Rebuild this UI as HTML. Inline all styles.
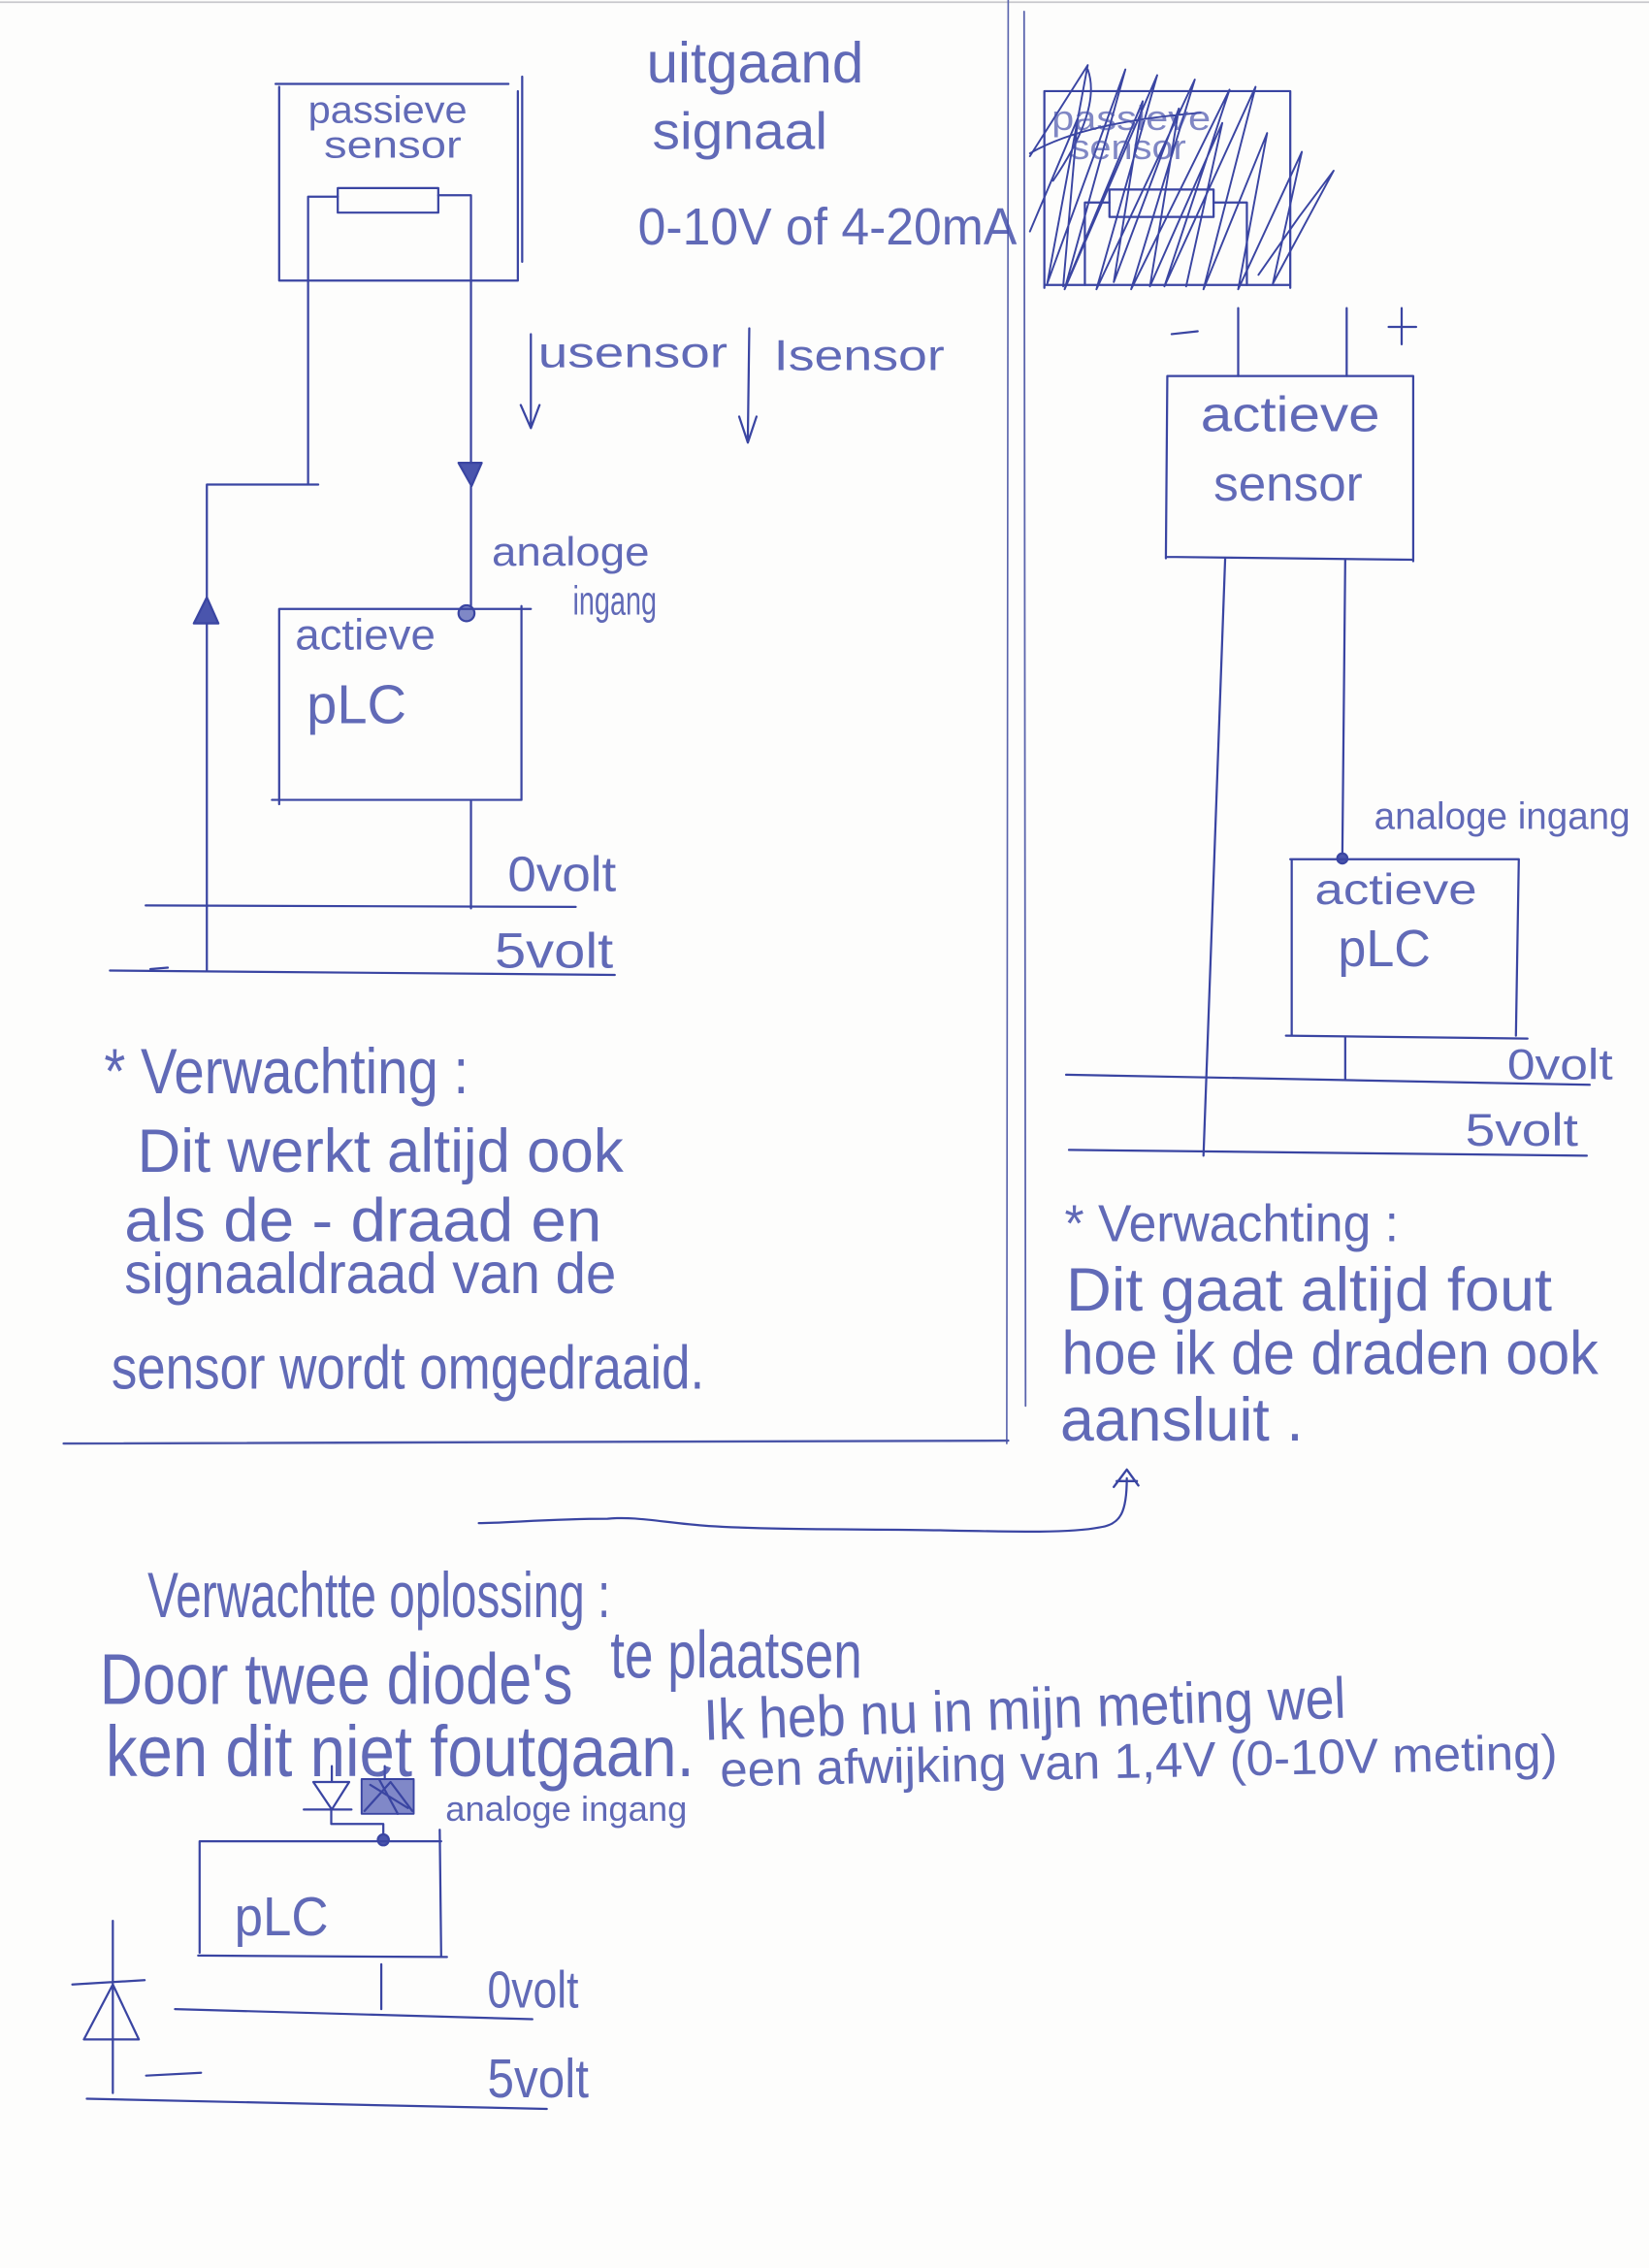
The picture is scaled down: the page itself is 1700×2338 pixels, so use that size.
<!DOCTYPE html>
<html><head><meta charset="utf-8"><style>
html,body{margin:0;padding:0;background:#fdfdfc;}
svg{display:block;}
text{font-family:"Liberation Sans",sans-serif;fill:#4550aa;fill-opacity:0.85;}
</style></head><body>
<svg width="1700" height="2338" viewBox="0 0 1140 1568" preserveAspectRatio="none" xmlns="http://www.w3.org/2000/svg">
<rect x="0" y="0" width="1140" height="1568" fill="#fdfdfc"/>
<line x1="0" y1="1.5" x2="1140" y2="1.5" stroke="#c8c8cc" stroke-width="1.2"/>
<g fill="none" stroke="#3a45a2" stroke-width="1.5" stroke-linecap="round" stroke-linejoin="round">
<!-- borders -->
<path d="M697,0 L696,998" stroke="#5a64ad" stroke-width="1.1"/>
<path d="M44,998 L697,996" stroke="#4a55a8" stroke-width="1.6"/>
<path d="M708,8 L709,972" stroke="#5a64ad" stroke-width="1.2"/>

<!-- passive sensor box left -->
<path d="M190.5,58 L351.5,58 M193,60 L193,194 L358,194 L358,63 M361,53 L361,181"/>
<rect x="233.5" y="130" width="69.5" height="17"/>
<path d="M213,136 L233.5,136 M213,136 L213,335 M220,335 L143,335 L143,671"/>
<path d="M303,135 L325.6,135 L325.6,421"/>
<path d="M317,320 L333,320 L326,336 Z" fill="#4a55ad"/>
<path d="M134,431 L151,431 L143,413 Z" fill="#4a55ad"/>
<circle cx="322.5" cy="424" r="5.5" fill="#7f88c6"/>
<!-- PLC left -->
<path d="M193,421 L367,421 M193,421 L193,556 M188,553 L360.5,553 M360.5,419 L360.5,553"/>
<path d="M325.6,554 L325.6,628"/>
<path d="M100.7,626 L398,627"/>
<path d="M76,671 L425,674 M104,670 L116,669"/>
<!-- usensor / isensor arrows -->
<path d="M367,231 L367,294 M360,280 L367,296 L373,280"/>
<path d="M518,227 L517,303 M511,288 L517,306 L523,288"/>

<!-- right section hatched box -->
<path d="M722,63 L892,63 M722,63 L722,199 M722,197 L892,197 M892,63 L892,199"/>
<rect x="767" y="131" width="72" height="19"/>
<path d="M750,140 L767,140 M839,140 L862,140 M750,140 L750,197 M862,140 L862,197"/>
<path stroke-width="1.3" d="M712,108 L752,45 L724,196 L778,48 L736,200 L800,52 L758,200 L826,55 L782,200 L850,62 L805,198 L868,60 L832,200 L876,92 L856,200 L900,105 L880,196 L922,118 L898,150 L870,190 M712,160 L745,82 L735,198 M712,106 C740,90 780,82 830,78 M752,48 C760,70 745,100 728,125 M740,190 L790,70 L770,195 L815,75 L795,198 L845,85 L820,198"/>
<!-- terminals -->
<path d="M856,213 L856,260 M931,213 L931,260 M810,231 L828,229 M960,226 L979,226 M969,213 L969,238"/>
<!-- active sensor box -->
<path d="M807,260 L977,260 M807,260 L806,386 M806,385 L977,387 M977,260 L977,388"/>
<path d="M847,386 L832,799"/>
<path d="M930,387 L928,592"/>
<circle cx="928" cy="593.5" r="3.5" fill="#4a55ad"/>
<!-- PLC right -->
<path d="M892,594 L1050,594 M893,594 L893,716 M889,716 L1056,718 M1050,594 L1048,716"/>
<path d="M930,717 L930,746"/>
<path d="M737,743 L1099,750"/>
<path d="M739,795 L1097,799"/>
<!-- connector -->
<path d="M331,1053 C350,1053 380,1050 420,1050 C440,1048 460,1053 490,1055 C540,1058 600,1057 650,1058 C700,1059 740,1060 760,1056 C775,1054 779,1045 779,1022"/>
<path d="M770,1028 L779,1016 L787,1027 M772,1024 L786,1024" stroke-width="1.6"/>

<!-- bottom diodes -->
<path d="M216.6,1232 L241.4,1232 L229.4,1251 Z M210,1251 L243,1251 M229.4,1221 L229.4,1232 M229,1251 L229,1261 L265,1261 L265,1273"/>
<rect x="250" y="1230" width="36" height="24" fill="#8088c8" stroke-width="1.3"/>
<path d="M252,1252 L270,1232 L285,1252 M256,1234 L282,1250 M262,1230 L275,1254 M266,1221 L266,1230"/>
<circle cx="265" cy="1272" r="3.8" fill="#4a55ad"/>
<!-- PLC bottom -->
<path d="M138,1273 L305,1273 M138,1273 L138,1350 M137,1352 L309,1353 M304,1265 L305,1352"/>
<path d="M263.6,1358 L263.6,1389"/>
<path d="M121,1389 L368,1396"/>
<path d="M60,1451 L378,1458"/>
<path d="M78,1328 L78,1447 M50,1372 L100,1369 M78,1372 L58,1410 L96,1410 Z M101,1435 L139,1433"/>
</g>

<!-- left section texts -->
<text x="447" y="57" font-size="40" textLength="150" lengthAdjust="spacingAndGlyphs">uitgaand</text>
<text x="451" y="103" font-size="36" textLength="121" lengthAdjust="spacingAndGlyphs">signaal</text>
<text x="441" y="169" font-size="36" textLength="262" lengthAdjust="spacingAndGlyphs">0-10V of 4-20mA</text>
<text x="213" y="85" font-size="26" textLength="110" lengthAdjust="spacingAndGlyphs">passieve</text>
<text x="224" y="109" font-size="26" textLength="95" lengthAdjust="spacingAndGlyphs">sensor</text>
<text x="372" y="254" font-size="30" textLength="131" lengthAdjust="spacingAndGlyphs">usensor</text>
<text x="535" y="256" font-size="30" textLength="118" lengthAdjust="spacingAndGlyphs">Isensor</text>
<text x="340" y="391" font-size="28" textLength="109" lengthAdjust="spacingAndGlyphs">analoge</text>
<text x="396" y="425" font-size="28" textLength="58" lengthAdjust="spacingAndGlyphs">ingang</text>
<text x="204" y="449" font-size="30" textLength="97" lengthAdjust="spacingAndGlyphs">actieve</text>
<text x="212" y="500" font-size="38" textLength="69" lengthAdjust="spacingAndGlyphs">pLC</text>
<text x="351" y="616" font-size="34" textLength="75" lengthAdjust="spacingAndGlyphs">0volt</text>
<text x="342" y="669" font-size="34" textLength="82" lengthAdjust="spacingAndGlyphs">5volt</text>
<text x="72" y="756" font-size="44" textLength="252" lengthAdjust="spacingAndGlyphs">* Verwachting :</text>
<text x="95" y="810" font-size="42" textLength="336" lengthAdjust="spacingAndGlyphs">Dit werkt altijd ook</text>
<text x="86" y="858" font-size="42" textLength="330" lengthAdjust="spacingAndGlyphs">als de - draad en</text>
<text x="86" y="894" font-size="40" textLength="340" lengthAdjust="spacingAndGlyphs">signaaldraad van de</text>
<text x="77" y="960" font-size="42" textLength="410" lengthAdjust="spacingAndGlyphs">sensor wordt omgedraaid.</text>

<!-- right section texts -->
<text x="727" y="90" font-size="24" textLength="110" lengthAdjust="spacingAndGlyphs" opacity="0.8">passieve</text>
<text x="740" y="110" font-size="24" textLength="80" lengthAdjust="spacingAndGlyphs" opacity="0.8">sensor</text>
<text x="830" y="298" font-size="34" textLength="124" lengthAdjust="spacingAndGlyphs">actieve</text>
<text x="839" y="346" font-size="34" textLength="103" lengthAdjust="spacingAndGlyphs">sensor</text>
<text x="950" y="573" font-size="26" textLength="177" lengthAdjust="spacingAndGlyphs">analoge ingang</text>
<text x="909" y="625" font-size="30" textLength="112" lengthAdjust="spacingAndGlyphs">actieve</text>
<text x="925" y="668" font-size="36" textLength="64" lengthAdjust="spacingAndGlyphs">pLC</text>
<text x="1042" y="746" font-size="30" textLength="73" lengthAdjust="spacingAndGlyphs">0volt</text>
<text x="1013" y="792" font-size="32" textLength="78" lengthAdjust="spacingAndGlyphs">5volt</text>
<text x="736" y="858" font-size="36" textLength="231" lengthAdjust="spacingAndGlyphs">* Verwachting :</text>
<text x="737" y="906" font-size="42" textLength="336" lengthAdjust="spacingAndGlyphs">Dit gaat altijd fout</text>
<text x="734" y="950" font-size="42" textLength="371" lengthAdjust="spacingAndGlyphs">hoe ik de draden ook</text>
<text x="733" y="996" font-size="42" textLength="168" lengthAdjust="spacingAndGlyphs">aansluit .</text>

<!-- bottom texts -->
<text x="102" y="1118" font-size="44" textLength="320" lengthAdjust="spacingAndGlyphs">Verwachtte oplossing :</text>
<text x="69" y="1178" font-size="50" textLength="327" lengthAdjust="spacingAndGlyphs">Door twee diode's</text>
<text x="422" y="1160" font-size="46" textLength="174" lengthAdjust="spacingAndGlyphs">te plaatsen</text>
<text x="73" y="1228" font-size="50" textLength="407" lengthAdjust="spacingAndGlyphs">ken dit niet foutgaan.</text>
<text x="487" y="1203" font-size="40" textLength="444" lengthAdjust="spacingAndGlyphs" transform="rotate(-2 487 1203)">Ik heb nu in mijn meting wel</text>
<text x="498" y="1235" font-size="34" textLength="579" lengthAdjust="spacingAndGlyphs" transform="rotate(-1.2 498 1235)">een afwijking van 1,4V (0-10V meting)</text>
<text x="308" y="1259" font-size="24" textLength="167" lengthAdjust="spacingAndGlyphs">analoge ingang</text>
<text x="162" y="1338" font-size="38" textLength="65" lengthAdjust="spacingAndGlyphs">pLC</text>
<text x="337" y="1388" font-size="36" textLength="63" lengthAdjust="spacingAndGlyphs">0volt</text>
<text x="337" y="1450" font-size="38" textLength="70" lengthAdjust="spacingAndGlyphs">5volt</text>
</svg>
</body></html>
